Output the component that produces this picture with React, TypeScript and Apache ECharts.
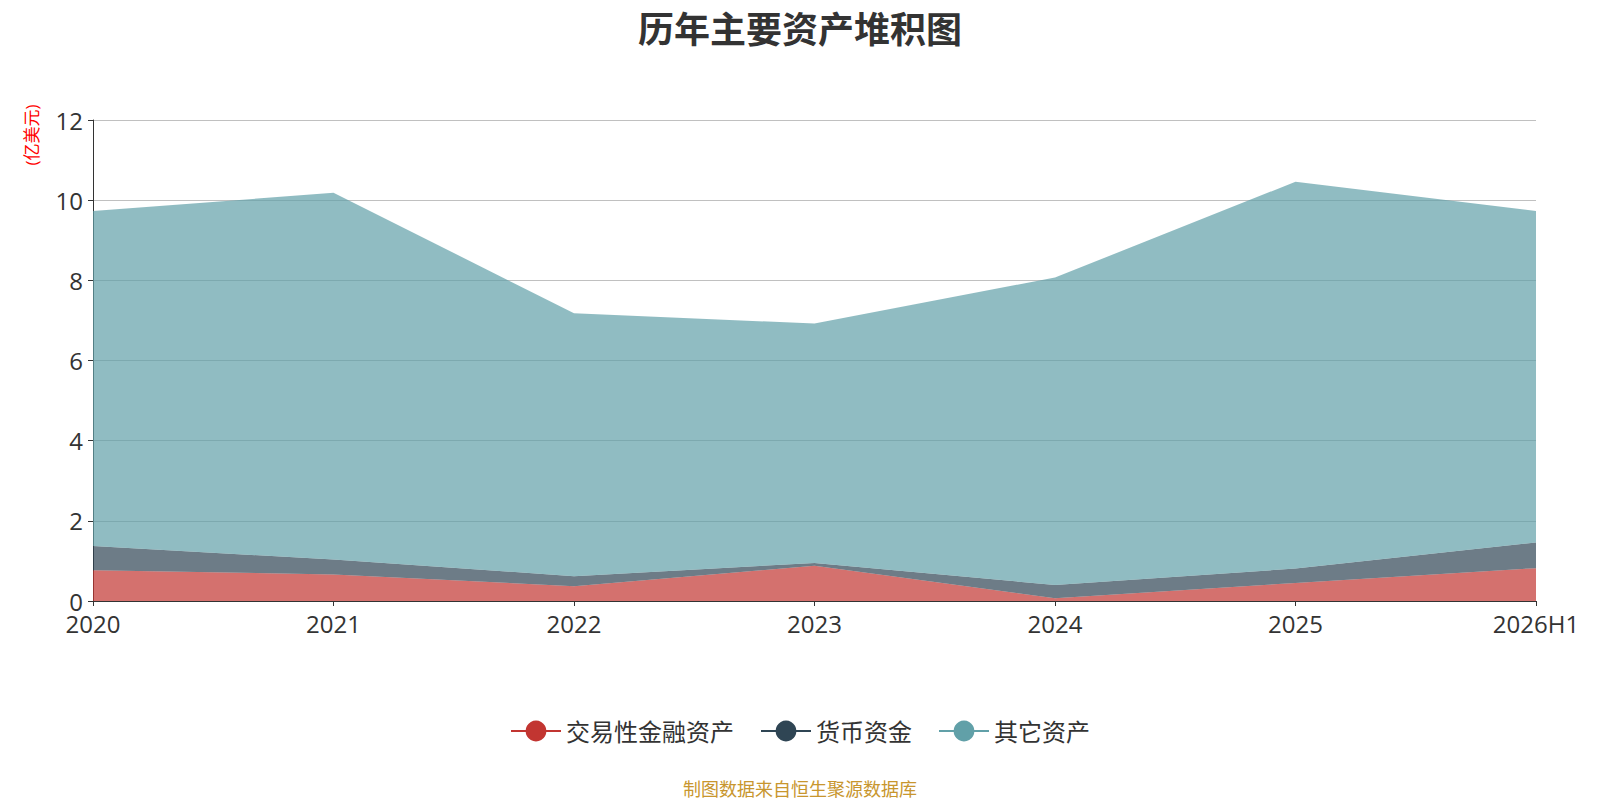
import React, { useEffect, useRef } from "react";
import * as echarts from "echarts";

const categories = ["2020", "2021", "2022", "2023", "2024", "2025", "2026H1"];
const tradingAssets = [0.77, 0.66, 0.37, 0.88, 0.07, 0.45, 0.82];
const cashAssets = [0.6, 0.375, 0.25, 0.07, 0.33, 0.36, 0.64];
const otherAssets = [8.36, 9.15, 6.56, 5.97, 7.67, 9.65, 8.27];
const seriesNames = ["交易性金融资产", "货币资金", "其它资产"];
const colors = ["#c23531", "#2f4554", "#61a0a8"];
const yTicks = { min: 0, max: 12, interval: 2 };

const FONT = "'Open Sans', 'Noto Sans CJK SC', sans-serif";

export default function App() {
  const ref = useRef<HTMLDivElement>(null);
  useEffect(() => {
    if (!ref.current) return;
    const chart = echarts.init(ref.current, undefined, { renderer: "svg" });
    const data = [tradingAssets, cashAssets, otherAssets];
    chart.setOption({
      animation: false,
      color: colors,
      textStyle: { fontFamily: FONT },
      title: {
        text: "历年主要资产堆积图",
        left: "center",
        top: 4,
        textStyle: { fontSize: 36, fontWeight: "bold", color: "#333", fontFamily: "'Noto Sans CJK SC', sans-serif" },
      },
      legend: {
        bottom: 52,
        left: "center",
        itemWidth: 50,
        itemHeight: 26,
        itemGap: 26,
        textStyle: { fontSize: 24, color: "#333", fontFamily: FONT },
        lineStyle: { width: 2, opacity: 1 },
        data: seriesNames,
      },
      grid: { left: 93, right: 64, top: 120, bottom: 199, containLabel: false },
      xAxis: {
        type: "category",
        boundaryGap: false,
        data: categories,
        axisLine: { lineStyle: { color: "#333" } },
        axisTick: { show: true, lineStyle: { color: "#333" } },
        axisLabel: { fontSize: 24, color: "#333", margin: 10, fontFamily: FONT },
      },
      yAxis: {
        type: "value",
        min: yTicks.min,
        max: yTicks.max,
        interval: yTicks.interval,
        axisLine: { show: true, lineStyle: { color: "#333" } },
        axisTick: { show: true, lineStyle: { color: "#333" } },
        axisLabel: { fontSize: 24, color: "#333", margin: 10, fontFamily: FONT },
        splitLine: { lineStyle: { color: "#c0c0c0" } },
      },
      graphic: [
        {
          type: "text",
          x: 31,
          y: 135,
          rotation: Math.PI / 2,
          style: {
            text: "(亿美元)",
            fill: "#ff0000",
            fontSize: 17,
            fontFamily: FONT,
            align: "center",
            verticalAlign: "middle",
          },
        },
        {
          type: "text",
          x: 800,
          y: 789,
          style: {
            text: "制图数据来自恒生聚源数据库",
            fill: "#c8962e",
            fontSize: 18,
            fontFamily: FONT,
            align: "center",
            verticalAlign: "middle",
          },
        },
      ],
      series: seriesNames.map((name, i) => ({
        name,
        type: "line",
        stack: "total",
        data: data[i],
        symbol: "circle",
        showSymbol: false,
        lineStyle: { width: 0 },
        areaStyle: { opacity: 0.7 },
        emphasis: { disabled: true },
      })),
    });
    return () => chart.dispose();
  }, []);
  return (
    <div
      ref={ref}
      style={{ position: "fixed", left: 0, top: 0, width: 1600, height: 800, background: "#fff" }}
    />
  );
}
